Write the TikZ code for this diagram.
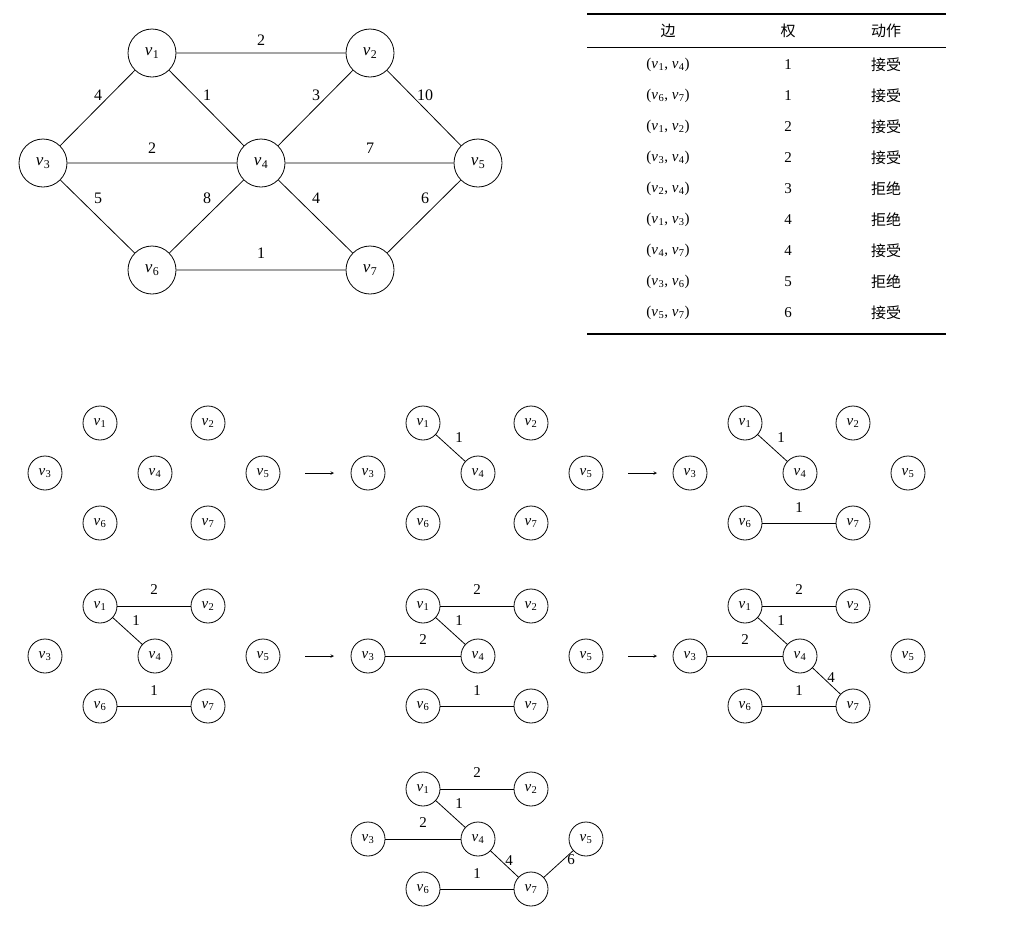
\documentclass[tikz,border=0pt]{standalone}
\usepackage{fontspec}
\setmainfont{Liberation Serif}
\newfontfamily\cjk{Noto Sans CJK SC}
\newcommand\vv[1]{\textit{v}\kern0.5pt\textsubscript{#1}}
\begin{document}
\begin{tikzpicture}[x=1pt,y=-1pt,line width=0.8pt,
  bn/.style={draw,circle,minimum size=48pt,inner sep=0pt,font=\fontsize{17}{18}\selectfont},
  sn/.style={draw,circle,minimum size=34pt,inner sep=0pt,font=\fontsize{15}{16}\selectfont},
  el/.style={font=\fontsize{16}{17}\selectfont,inner sep=1pt},
  sl/.style={font=\fontsize{15}{16}\selectfont,inner sep=1pt},
  tb/.style={font=\fontsize{15}{16}\selectfont},
  arr/.style={-stealth}]
\useasboundingbox (0,0) rectangle (1033,935);
% big graph
\node[bn] (b1) at (152,53) {\vv1};
\node[bn] (b2) at (370,53) {\vv2};
\node[bn] (b3) at (43,163) {\vv3};
\node[bn] (b4) at (261,163) {\vv4};
\node[bn] (b5) at (478,163) {\vv5};
\node[bn] (b6) at (152,270) {\vv6};
\node[bn] (b7) at (370,270) {\vv7};
\draw (b1)--(b2) (b1)--(b3) (b1)--(b4) (b2)--(b4) (b2)--(b5) (b3)--(b4) (b4)--(b5)
 (b3)--(b6) (b6)--(b4) (b4)--(b7) (b5)--(b7) (b6)--(b7);
\node[el] (l1) at (261,40) {2}; \node[el] (l2) at (98,95) {4};
\node[el] (l3) at (207,95) {1}; \node[el] (l4) at (316,95) {3};
\node[el] (l5) at (425,95) {10}; \node[el] (l6) at (152,148) {2};
\node[el] (l7) at (370,148) {7}; \node[el] (l8) at (98,198) {5};
\node[el] (l9) at (207,198) {8}; \node[el] (l10) at (316,198) {4};
\node[el] (l11) at (425,198) {6}; \node[el] (l12) at (261,253) {1};
% table
\draw[line width=1.4pt] (587,14)--(946,14);
\draw[line width=0.7pt] (587,47)--(946,47);
\draw[line width=1.4pt] (587,334)--(946,334);
\node[tb] (h1) at (668,31) {\cjk 边};
\node[tb] (h2) at (788,31) {\cjk 权};
\node[tb] (h3) at (886,31) {\cjk 动作};
\foreach \p/\q/\w/\a [count=\i] in {1/4/1/接受,6/7/1/接受,1/2/2/接受,3/4/2/接受,2/4/3/拒绝,1/3/4/拒绝,4/7/4/接受,3/6/5/拒绝,5/7/6/接受}{
  \node[tb] (e\i) at (668,33.5+31*\i) {(\vv\p, \vv\q)};
  \node[tb] (w\i) at (788,33.5+31*\i) {\w};
  \node[tb] (a\i) at (886,33.5+31*\i) {\cjk\a};
}
% small graphs
\newcommand\smallg[4]{%
\begin{scope}[shift={(#2,#3)}]
\node[sn] (#1-1) at (0,0) {\vv1};
\node[sn] (#1-2) at (108,0) {\vv2};
\node[sn] (#1-3) at (-55,50) {\vv3};
\node[sn] (#1-4) at (55,50) {\vv4};
\node[sn] (#1-5) at (163,50) {\vv5};
\node[sn] (#1-6) at (0,100) {\vv6};
\node[sn] (#1-7) at (108,100) {\vv7};
\foreach \p/\q in {#4}{
  \draw (#1-\p) -- (#1-\q);}
\end{scope}}
\smallg{g1}{100}{423}{}
\smallg{g2}{423}{423}{1/4}
\smallg{g3}{745}{423}{1/4,6/7}
\smallg{g4}{100}{606}{1/4,6/7,1/2}
\smallg{g5}{423}{606}{1/4,6/7,1/2,3/4}
\smallg{g6}{745}{606}{1/4,6/7,1/2,3/4,4/7}
\smallg{g7}{423}{789}{1/4,6/7,1/2,3/4,4/7,5/7}
% edge labels
\foreach \x/\y in {423/423,745/423,100/606,423/606,745/606,423/789}{
  \node[sl] at (\x+36,\y+15) {1};}
\foreach \x/\y in {745/423,100/606,423/606,745/606,423/789}{
  \node[sl] at (\x+54,\y+85) {1};}
\foreach \x/\y in {100/606,423/606,745/606,423/789}{
  \node[sl] at (\x+54,\y-16) {2};}
\foreach \x/\y in {423/606,745/606,423/789}{
  \node[sl] at (\x,\y+34) {2};}
\foreach \x/\y in {745/606,423/789}{
  \node[sl] at (\x+86,\y+72) {4};}
\node[sl] at (423+148,789+71) {6};
% arrows
\coordinate (a1s) at (305,473); \coordinate (a1e) at (334,473);
\coordinate (a2s) at (628,473); \coordinate (a2e) at (657,473);
\coordinate (a3s) at (305,656); \coordinate (a3e) at (334,656);
\coordinate (a4s) at (628,656); \coordinate (a4e) at (657,656);
\draw[arr,line width=0.6pt] (a1s)--(a1e); \draw[arr,line width=0.6pt] (a2s)--(a2e);
\draw[arr,line width=0.6pt] (a3s)--(a3e); \draw[arr,line width=0.6pt] (a4s)--(a4e);
\end{tikzpicture}
\end{document}
